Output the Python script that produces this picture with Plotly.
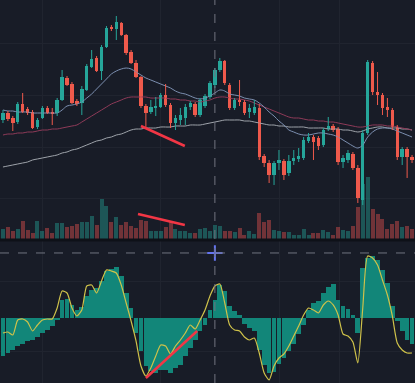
import plotly.graph_objects as go

# ---------------- data (arbitrary price units) ----------------
opens = [129, 136, 131, 127, 145, 140, 137, 122, 131, 141, 137, 136, 149, 171, 165, 148, 146, 159, 182, 191,
         178, 202, 222, 220, 226, 214, 197, 186, 172, 143, 137, 141, 142, 154, 144, 126, 129, 131, 142, 145,
         134, 143, 152, 164, 179, 188, 164, 141, 149, 147, 137, 136, 141, 93, 86, 74, 86, 88, 76, 88,
         90, 91, 108, 112, 111, 104, 120, 123, 120, 87, 89, 95, 81, 49, 116, 186, 157, 154, 142, 139,
         122, 92, 100, 92]
highs = [139, 138, 133, 147, 156, 142, 139, 131, 143, 143, 141, 151, 179, 173, 167, 150, 163, 185, 199, 193,
         204, 223, 224, 233, 227, 215, 199, 189, 173, 145, 149, 152, 156, 165, 146, 134, 141, 145, 148, 147,
         151, 155, 168, 181, 191, 189, 166, 151, 169, 149, 145, 149, 145, 95, 89, 88, 99, 90, 94, 99,
         101, 112, 116, 114, 113, 121, 132, 125, 122, 94, 99, 97, 84, 119, 189, 188, 177, 156, 151, 141,
         124, 102, 102, 94]
lows = [126, 128, 118, 125, 136, 134, 120, 120, 130, 135, 124, 133, 148, 163, 145, 143, 134, 158, 181, 177,
        169, 201, 218, 209, 213, 194, 185, 171, 141, 122, 135, 133, 141, 142, 121, 119, 124, 124, 139, 132,
        132, 141, 150, 161, 177, 164, 139, 139, 143, 134, 131, 134, 89, 82, 66, 64, 79, 69, 73, 84,
        87, 89, 106, 89, 99, 102, 118, 117, 84, 81, 86, 79, 46, 44, 114, 154, 144, 134, 132, 119,
        89, 84, 71, 86]
closes = [136, 130, 126, 145, 137, 136, 121, 129, 141, 136, 135, 149, 172, 164, 146, 145, 160, 183, 190, 178,
          202, 221, 220, 227, 214, 196, 186, 172, 143, 136, 142, 143, 154, 144, 126, 131, 134, 142, 146, 134,
          149, 153, 166, 179, 188, 166, 141, 149, 147, 136, 141, 142, 92, 86, 74, 86, 89, 74, 88, 91,
          93, 109, 112, 107, 103, 119, 123, 119, 87, 91, 96, 81, 51, 116, 187, 157, 154, 141, 139, 122,
          92, 100, 92, 89]
volumes = [10, 12, 8, 10, 18, 9, 6, 18, 8, 11, 6, 16, 16, 12, 13, 15, 17, 17, 23, 14,
           40, 33, 17, 22, 14, 17, 13, 11, 19, 18, 8, 8, 8, 12, 17, 10, 8, 8, 6, 6,
           10, 11, 8, 14, 13, 8, 8, 7, 11, 4, 8, 5, 26, 17, 19, 9, 8, 7, 7, 4,
           4, 10, 4, 6, 6, 9, 7, 4, 12, 9, 8, 13, 32, 55, 62, 30, 25, 20, 10, 15,
           18, 12, 13, 10]
ma_fast = [139, 138, 138, 137, 137, 137, 136, 136, 136, 136, 136, 136, 139, 143, 144, 145, 147, 151, 155, 160,
           165, 170, 175, 178, 180, 181, 180, 177, 174, 171, 169, 167, 165, 163, 161, 158, 156, 155, 153, 151,
           150, 151, 153, 156, 159, 158, 155, 154, 153, 151, 150, 149, 146, 142, 137, 133, 128, 124, 119, 117,
           115, 114, 114, 115, 116, 116, 115, 114, 112, 109, 106, 103, 101, 104, 112, 117, 120, 121, 121, 120,
           118, 116, 114, 112]
ma_mid = [114, 115, 115, 116, 116, 117, 117, 118, 119, 119, 120, 120, 121, 122, 123, 124, 127, 130, 133, 136,
          139, 142, 145, 147, 149, 151, 152, 152, 152, 152, 151, 151, 151, 151, 150, 150, 149, 149, 148, 148,
          147, 148, 149, 151, 152, 152, 151, 150, 150, 149, 148, 146, 144, 142, 140, 138, 136, 134, 132, 131,
          131, 130, 129, 129, 128, 128, 127, 127, 126, 125, 124, 123, 122, 122, 123, 124, 124, 124, 123, 123,
          122, 121, 120, 119]
ma_slow = [82, 83, 84, 85, 86, 87, 89, 90, 91, 92, 93, 94, 96, 97, 99, 100, 102, 104, 106, 108,
           109, 111, 112, 114, 115, 117, 119, 120, 120, 121, 121, 121, 122, 122, 122, 123, 123, 123, 124, 124,
           124, 125, 126, 127, 128, 129, 129, 129, 129, 128, 128, 127, 126, 125, 124, 124, 123, 123, 122, 122,
           122, 122, 121, 121, 121, 121, 120, 120, 120, 119, 119, 118, 117, 118, 120, 121, 122, 122, 121, 121,
           121, 120, 120, 119]
macd_hist = [-38, -35, -32, -28, -26, -23, -22, -19, -15, -12, -8, -2, 18, 19, 13, 8, 11, 22, 28, 30,
             37, 47, 49, 51, 42, 25, 10, -15, -33, -48, -53, -55, -52, -52, -55, -50, -47, -38, -30, -22,
             -13, -7, 8, 18, 33, 27, 12, 7, 3, -6, -10, -13, -32, -47, -55, -54, -46, -40, -33, -26,
             -16, -7, 8, 15, 17, 25, 31, 34, 18, 12, 9, 3, -15, 50, 60, 62, 58, 48, 35, 12,
             -3, -13, -22, -26]
macd_line = [-15, -14, -17, -2, -1, -4, -13, -7, -2, -1, -1, 10, 27, 25, 10, 2, 8, 32, 33, 25,
             37, 48, 47, 45, 33, 15, -3, -23, -48, -58, -50, -38, -27, -28, -36, -28, -22, -15, -7, -11,
             -2, 8, 22, 32, 34, 15, -7, -12, -13, -19, -22, -20, -35, -55, -62, -48, -40, -36, -28, -18,
             -8, 3, 10, 8, 5, 13, 17, 13, 3, -16, -18, -24, -45, 10, 62, 60, 53, 38, 23, 2,
             -25, -32, -35, -35]

# hand-drawn trend lines: (index0, value0, index1, value1)
trend_price = (28.0, 123, 36.9, 103)
trend_volume = (27.4, 25, 36.9, 14)
trend_macd = (29.0, -60, 39.4, -13)
crosshair_index = 43
crosshair_macd_value = 65

# ---------------- styling ----------------
BG = '#181c27'
GRID = '#20242f'
UP = '#26a69a'
DOWN = '#ef5a4c'
VOL_UP = 'rgba(38,166,154,0.42)'
VOL_DOWN = 'rgba(239,83,80,0.42)'
HIST = '#128679'
YEL = '#cfc24a'
TREND = '#f23645'

idx = list(range(len(opens)))
is_up = [c >= o for o, c in zip(opens, closes)]

fig = go.Figure()

# volume
fig.add_trace(go.Bar(x=idx, y=volumes, yaxis='y2', width=0.82,
                     marker=dict(color=[VOL_UP if u else VOL_DOWN for u in is_up], line=dict(width=0)),
                     hoverinfo='skip'))

# moving averages
fig.add_trace(go.Scatter(x=idx, y=ma_slow, mode='lines', line=dict(color='#9ea3aa', width=1, shape='spline'), hoverinfo='skip'))
fig.add_trace(go.Scatter(x=idx, y=ma_mid, mode='lines', line=dict(color='#8e3a58', width=1, shape='spline'), hoverinfo='skip'))
fig.add_trace(go.Scatter(x=idx, y=ma_fast, mode='lines', line=dict(color='#7c8fb0', width=1, shape='spline'), hoverinfo='skip'))

# wicks
for flag, col in ((True, UP), (False, DOWN)):
    wx, wy = [], []
    for i, u in enumerate(is_up):
        if u == flag:
            wx += [i, i, None]
            wy += [lows[i], highs[i], None]
    fig.add_trace(go.Scatter(x=wx, y=wy, mode='lines', line=dict(color=col, width=1), hoverinfo='skip'))

# bodies
fig.add_trace(go.Bar(x=idx,
                     y=[max(abs(c - o), 1.3) for o, c in zip(opens, closes)],
                     base=[min(o, c) for o, c in zip(opens, closes)],
                     width=0.7,
                     marker=dict(color=[UP if u else DOWN for u in is_up], line=dict(width=0)),
                     hoverinfo='skip'))

# MACD panel
fig.add_trace(go.Bar(x=idx, y=macd_hist, xaxis='x2', yaxis='y3', width=0.95,
                     marker=dict(color=HIST, line=dict(width=0)), hoverinfo='skip'))
fig.add_trace(go.Scatter(x=idx, y=macd_line, xaxis='x2', yaxis='y3', mode='lines',
                         line=dict(color=YEL, width=1.2, shape='spline', smoothing=0.6), hoverinfo='skip'))

# crosshair cursor
fig.add_trace(go.Scatter(x=[crosshair_index], y=[crosshair_macd_value], xaxis='x2', yaxis='y3', mode='markers',
                         marker=dict(symbol='cross-thin', size=11, line=dict(color='#6474f0', width=2)),
                         hoverinfo='skip'))

grid_x = [8.1, 32.0, 56.2, 68.2]
xcommon = dict(range=[-0.6, 83.6], showticklabels=False, ticks='', tickvals=grid_x, showgrid=True,
               gridcolor=GRID, gridwidth=1, zeroline=False, showline=False, fixedrange=True)

fig.update_layout(
    width=415, height=383, margin=dict(l=0, r=0, t=0, b=0),
    paper_bgcolor=BG, plot_bgcolor=BG, showlegend=False, barmode='overlay', bargap=0,
    xaxis=dict(anchor='y', domain=[0, 1], **xcommon),
    xaxis2=dict(anchor='y3', domain=[0, 1], **xcommon),
    yaxis=dict(domain=[0.376, 1], range=[10, 249], showticklabels=False, ticks='', tickvals=[50, 102, 154, 206],
               showgrid=True, gridcolor=GRID, zeroline=False, showline=False),
    yaxis2=dict(overlaying='y', range=[0, 239], visible=False),
    yaxis3=dict(domain=[0, 0.3708], range=[-65, 77], showticklabels=False, ticks='', tickvals=[-34, 36],
                showgrid=True, gridcolor=GRID, zeroline=False, showline=False),
    shapes=[
        dict(type='line', xref='paper', yref='paper', x0=0, x1=1, y0=0.3735, y1=0.3735,
             line=dict(color='#0e1118', width=3)),
        dict(type='line', xref='x', yref='paper', x0=crosshair_index, x1=crosshair_index, y0=0, y1=1,
             line=dict(color='#70747f', width=1, dash='dash')),
        dict(type='line', xref='paper', yref='y3', x0=0, x1=1, y0=crosshair_macd_value, y1=crosshair_macd_value,
             line=dict(color='#70747f', width=1, dash='dash')),
        dict(type='line', xref='x', yref='y', x0=trend_price[0], y0=trend_price[1], x1=trend_price[2], y1=trend_price[3],
             line=dict(color=TREND, width=2.5)),
        dict(type='line', xref='x', yref='y2', x0=trend_volume[0], y0=trend_volume[1], x1=trend_volume[2], y1=trend_volume[3],
             line=dict(color=TREND, width=2.5)),
        dict(type='line', xref='x2', yref='y3', x0=trend_macd[0], y0=trend_macd[1], x1=trend_macd[2], y1=trend_macd[3],
             line=dict(color=TREND, width=2.5)),
    ],
)

fig.write_html("out.html", config={'displayModeBar': False},
               post_script="document.body.style.margin='0';document.body.style.padding='0';document.body.style.background='#181c27';")
